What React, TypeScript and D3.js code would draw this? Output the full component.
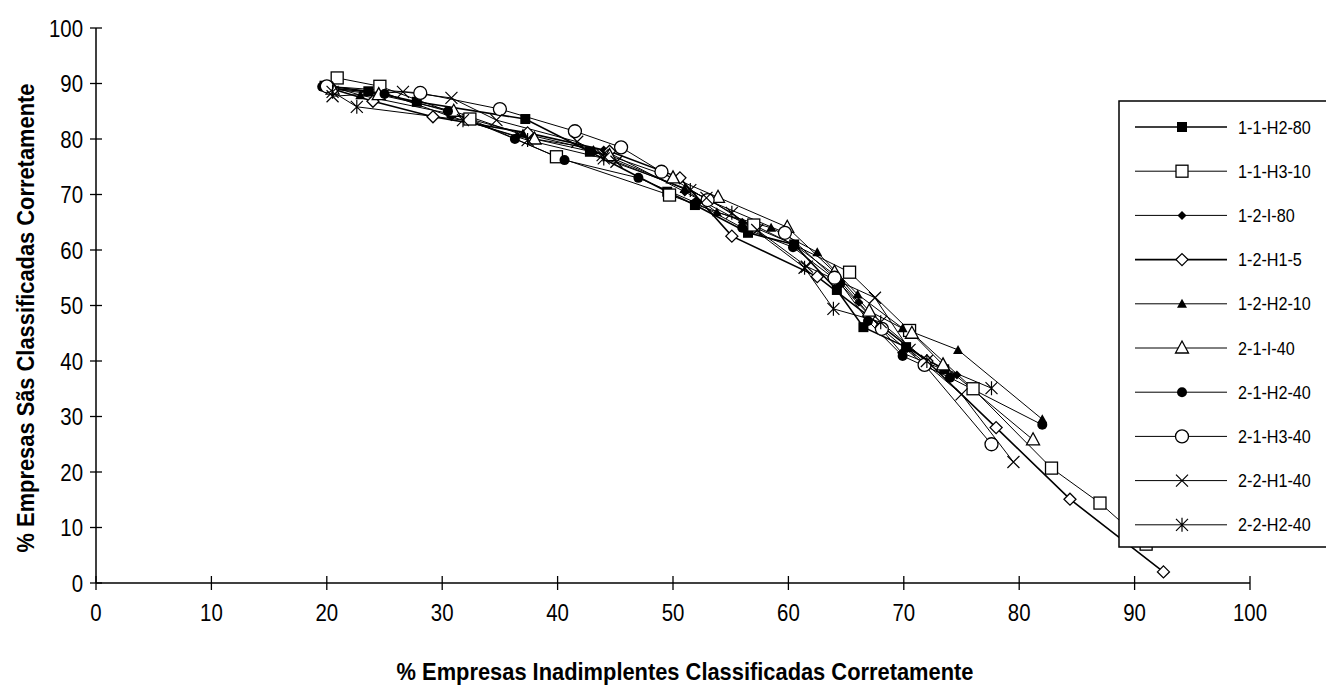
import React from "react";
import * as d3 from "d3";

const xTicks = [0, 10, 20, 30, 40, 50, 60, 70, 80, 90, 100];
const yTicks = [0, 10, 20, 30, 40, 50, 60, 70, 80, 90, 100];

const seriesNames = [
  "1-1-H2-80", "1-1-H3-10", "1-2-I-80", "1-2-H1-5", "1-2-H2-10",
  "2-1-I-40", "2-1-H2-40", "2-1-H3-40", "2-2-H1-40", "2-2-H2-40",
];

const s_1_1_H2_80: [number, number][] = [
  [19.8, 89.6], [23.6, 88.6], [27.8, 86.7], [37.2, 83.6], [42.8, 77.7], [49.5, 70.5],
  [51.9, 68.1], [56.5, 63.1], [60.5, 61.0], [64.2, 52.8], [66.5, 46.1], [70.2, 42.5], [73.5, 38.5],
];
const s_1_1_H3_10: [number, number][] = [
  [20.9, 91.0], [24.6, 89.5], [32.4, 83.6], [39.9, 76.8], [49.7, 69.9], [57.0, 64.5],
  [65.3, 56.0], [70.5, 45.5], [76.0, 35.0], [82.8, 20.7], [87.0, 14.4], [91.0, 7.0],
];
const s_1_2_I_80: [number, number][] = [
  [19.8, 89.2], [25.0, 88.3], [30.8, 84.0], [36.5, 80.5], [44.0, 78.0], [51.0, 70.5],
  [56.0, 65.0], [60.5, 61.0], [63.9, 55.7], [66.1, 50.6], [69.8, 41.5], [74.6, 37.5],
];
const s_1_2_H1_5: [number, number][] = [
  [20.5, 89.0], [24.0, 86.8], [29.2, 84.0], [37.4, 81.1], [44.5, 77.8], [50.6, 73.0],
  [55.1, 62.5], [62.5, 55.2], [67.0, 48.0], [72.0, 40.0], [78.0, 28.0], [84.4, 15.1], [92.5, 2.0],
];
const s_1_2_H2_10: [number, number][] = [
  [20.3, 89.5], [22.9, 87.9], [30.8, 84.5], [37.0, 81.0], [43.1, 78.0], [51.0, 71.0],
  [53.8, 66.8], [58.5, 64.0], [62.5, 59.6], [66.0, 52.0], [69.9, 45.9], [74.7, 42.0], [82.0, 29.5],
];
const s_2_1_I_40: [number, number][] = [
  [20.5, 89.0], [24.5, 88.0], [31.0, 85.0], [38.0, 80.0], [44.5, 77.0], [50.0, 73.0],
  [53.9, 69.5], [59.9, 64.1], [64.0, 56.0], [67.0, 49.0], [70.7, 45.0], [73.4, 39.3], [81.2, 25.8],
];
const s_2_1_H2_40: [number, number][] = [
  [19.6, 89.4], [25.0, 88.1], [30.5, 85.0], [36.3, 80.0], [40.6, 76.2], [47.0, 73.0],
  [52.0, 68.5], [56.0, 64.0], [60.4, 60.5], [64.5, 54.0], [66.9, 47.2], [69.9, 40.9], [74.0, 37.0], [82.0, 28.5],
];
const s_2_1_H3_40: [number, number][] = [
  [20.0, 89.5], [28.1, 88.3], [35.0, 85.4], [41.5, 81.4], [45.5, 78.5], [49.0, 74.1],
  [53.0, 69.0], [59.7, 63.1], [64.0, 55.0], [68.1, 45.8], [71.8, 39.3], [77.6, 25.0],
];
const s_2_2_H1_40: [number, number][] = [
  [20.5, 87.7], [26.6, 88.5], [30.8, 87.4], [34.7, 83.4], [41.7, 79.5], [43.9, 77.1], [45.1, 75.9],
  [52.9, 69.4], [57.3, 63.6], [61.6, 57.0], [67.5, 51.4], [70.5, 42.0], [75.0, 34.0], [79.5, 21.8],
];
const s_2_2_H2_40: [number, number][] = [
  [20.5, 88.5], [22.6, 85.8], [31.8, 83.4], [37.4, 79.8], [44.0, 76.5], [51.5, 70.8],
  [55.1, 66.7], [61.4, 56.8], [63.9, 49.4], [68.0, 47.0], [72.0, 40.0], [77.6, 35.1],
];

const seriesData = [
  s_1_1_H2_80, s_1_1_H3_10, s_1_2_I_80, s_1_2_H1_5, s_1_2_H2_10,
  s_2_1_I_40, s_2_1_H2_40, s_2_1_H3_40, s_2_2_H1_40, s_2_2_H2_40,
];

type MarkerKind = "fsquare" | "osquare" | "fdiamond" | "odiamond" | "ftri" | "otri" | "fcircle" | "ocircle" | "x" | "star";
const markers: MarkerKind[] = ["fsquare", "osquare", "fdiamond", "odiamond", "ftri", "otri", "fcircle", "ocircle", "x", "star"];
const lineWidths = [1.6, 1.0, 1.0, 1.6, 1.0, 1.0, 1.0, 1.0, 1.0, 1.0];

const FONT = "'Liberation Sans', Arial, sans-serif";

function Marker({ kind, x, y }: { kind: MarkerKind; x: number; y: number }) {
  const sw = 1.3;
  switch (kind) {
    case "fsquare":
      return <rect x={x - 5} y={y - 5} width={10} height={10} fill="#000" />;
    case "osquare":
      return <rect x={x - 6} y={y - 6} width={12} height={12} fill="#fff" stroke="#000" strokeWidth={sw} />;
    case "fdiamond":
      return <path d={`M${x},${y - 4.5}L${x + 4.5},${y}L${x},${y + 4.5}L${x - 4.5},${y}Z`} fill="#000" />;
    case "odiamond":
      return <path d={`M${x},${y - 6}L${x + 6},${y}L${x},${y + 6}L${x - 6},${y}Z`} fill="#fff" stroke="#000" strokeWidth={sw} />;
    case "ftri":
      return <path d={`M${x},${y - 5}L${x + 5},${y + 4}L${x - 5},${y + 4}Z`} fill="#000" />;
    case "otri":
      return <path d={`M${x},${y - 7}L${x + 6.5},${y + 5}L${x - 6.5},${y + 5}Z`} fill="#fff" stroke="#000" strokeWidth={sw} />;
    case "fcircle":
      return <circle cx={x} cy={y} r={5} fill="#000" />;
    case "ocircle":
      return <circle cx={x} cy={y} r={6.5} fill="#fff" stroke="#000" strokeWidth={sw} />;
    case "x":
      return <path d={`M${x - 6},${y - 6}L${x + 6},${y + 6}M${x - 6},${y + 6}L${x + 6},${y - 6}`} stroke="#000" strokeWidth={1.2} fill="none" />;
    case "star":
      return <path d={`M${x - 6},${y - 6}L${x + 6},${y + 6}M${x - 6},${y + 6}L${x + 6},${y - 6}M${x},${y - 7}L${x},${y + 7}`} stroke="#000" strokeWidth={1.2} fill="none" />;
  }
  return null;
}

function NText({ x, y, sx, size, anchor, bold, rotate, children }: any) {
  const tr = `translate(${x},${y})${rotate ? ` rotate(${rotate})` : ""} scale(${sx},1)`;
  return (
    <text transform={tr} textAnchor={anchor || "start"} fontFamily={FONT} fontSize={size}
      fontWeight={bold ? "bold" : "normal"} fill="#000">{children}</text>
  );
}

export default function App() {
  const W = 1326, H = 688;
  const x = d3.scaleLinear().domain([0, 100]).range([96, 1250]);
  const y = d3.scaleLinear().domain([0, 100]).range([583, 28]);
  const line = d3.line<[number, number]>().x(d => x(d[0])).y(d => y(d[1]));

  const legX = 1119, legY = 101, legH = 446;
  const rowY = (i: number) => 127 + i * 44.2;

  return (
    <svg width={W} height={H} style={{ position: "absolute", left: 0, top: 0, background: "#fff" }}>
      <rect x={0} y={0} width={W} height={H} fill="#fff" />
      {/* axes */}
      <line x1={x(0)} x2={x(0)} y1={y(100)} y2={y(0)} stroke="#000" strokeWidth={1.5} />
      <line x1={x(0)} x2={x(100)} y1={y(0)} y2={y(0)} stroke="#000" strokeWidth={1.5} />
      {yTicks.map(t => (
        <g key={"y" + t}>
          <line x1={x(0) - 6} x2={x(0) + 6} y1={y(t)} y2={y(t)} stroke="#000" strokeWidth={1.3} />
          <NText x={83} y={y(t) + 8.5} sx={0.85} size={24} anchor="end">{t}</NText>
        </g>
      ))}
      {xTicks.map(t => (
        <g key={"x" + t}>
          <line x1={x(t)} x2={x(t)} y1={y(0) - 7} y2={y(0) + 7} stroke="#000" strokeWidth={1.3} />
          <NText x={x(t)} y={621} sx={0.85} size={24} anchor="middle">{t}</NText>
        </g>
      ))}
      {/* series */}
      {seriesData.map((s, i) => (
        <path key={"l" + i} d={line(s) || ""} fill="none" stroke="#000" strokeWidth={lineWidths[i]} />
      ))}
      {seriesData.map((s, i) => (
        <g key={"m" + i}>
          {s.map((p, j) => <Marker key={j} kind={markers[i]} x={x(p[0])} y={y(p[1])} />)}
        </g>
      ))}
      {/* titles */}
      <NText x={685} y={680} sx={0.93} size={23.5} anchor="middle" bold>
        % Empresas Inadimplentes Classificadas Corretamente
      </NText>
      <NText x={34} y={318} sx={0.93} size={23.5} anchor="middle" bold rotate={-90}>
        % Empresas Sãs Classificadas Corretamente
      </NText>
      {/* legend */}
      <rect x={legX} y={legY} width={W - legX + 10} height={legH} fill="#fff" stroke="#000" strokeWidth={1.5} />
      {seriesNames.map((n, i) => (
        <g key={"lg" + i}>
          <line x1={1135} x2={1227} y1={rowY(i)} y2={rowY(i)} stroke="#000" strokeWidth={lineWidths[i]} />
          <Marker kind={markers[i]} x={1182} y={rowY(i)} />
          <NText x={1238} y={rowY(i) + 6.5} sx={0.9} size={18}>{n}</NText>
        </g>
      ))}
    </svg>
  );
}
